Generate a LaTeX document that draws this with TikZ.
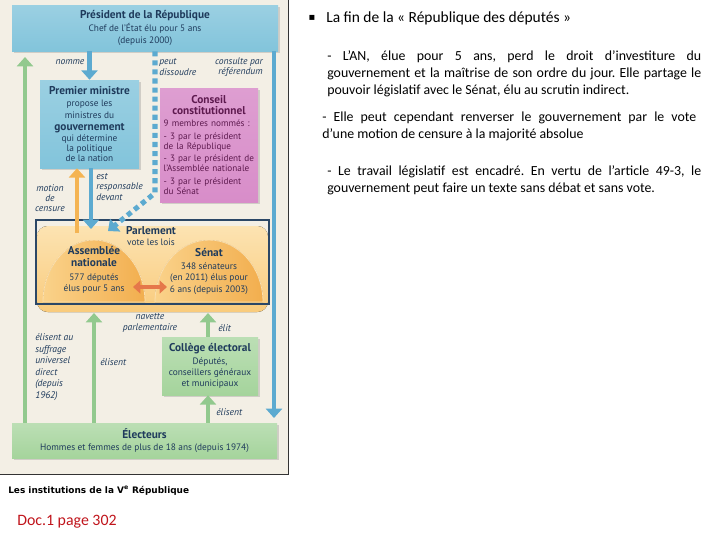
\documentclass[tikz,border=0pt]{standalone}
\usepackage{fontspec}
\setmainfont{Carlito}
\newfontfamily\diagfont{PT Sans}
\newfontfamily\symfont{DejaVu Sans}
\usetikzlibrary{arrows.meta,shadows}

\definecolor{panelbg}{HTML}{F3EFE5}
\definecolor{boxblue}{HTML}{82C4DB}
\definecolor{arrowblue}{HTML}{5CAAD0}
\definecolor{navy}{HTML}{1F3B5C}
\definecolor{ccpink}{HTML}{D88DC9}
\definecolor{ccdark}{HTML}{5E1A4F}
\definecolor{boxgreen}{HTML}{A5D49C}
\definecolor{arrowgreen}{HTML}{92C98E}
\definecolor{parllight}{HTML}{FCE3B2}
\definecolor{parldark}{HTML}{F9CB7C}
\definecolor{domelight}{HTML}{FAD28A}
\definecolor{domedark}{HTML}{F2AE4E}
\definecolor{framenavy}{HTML}{2B4766}
\definecolor{censorange}{HTML}{F4B453}
\definecolor{navetteorange}{HTML}{E5774A}
\definecolor{docred}{HTML}{C0141B}

\newcommand{\dtitle}{\diagfont\bfseries\fontsize{8.5}{9.4}\selectfont}
\newcommand{\dbody}{\diagfont\fontsize{7}{9}\selectfont}
\newcommand{\dlabel}{\diagfont\itshape\fontsize{7.2}{7.6}\selectfont}

\begin{document}
\frenchspacing
\begin{tikzpicture}[x=0.75pt, y=-0.75pt,
    >={Triangle[width=12pt,length=7pt]},
    box/.style={inner sep=0pt, align=center, text=navy, font=\dbody,
      drop shadow={shadow xshift=1.2pt, shadow yshift=-1.2pt, opacity=0.3}},
    bluebox/.style={box, top color=boxblue!80!white, bottom color=boxblue},
    greenbox/.style={box, top color=boxgreen!75!white, bottom color=boxgreen},
    pinkbox/.style={box, top color=ccpink!85!white, bottom color=ccpink, text=ccdark},
    bluearrow/.style={draw=arrowblue, line width=3.6pt, ->},
    greenarrow/.style={draw=arrowgreen, line width=3.6pt, ->},
    censarrow/.style={draw=censorange, line width=3.6pt, ->},
    dissolve/.style={draw=arrowblue, line width=3.8pt, dash pattern=on 3.8pt off 3pt, ->},
    dome/.style={left color=domelight, right color=domedark, draw=domelight!70!white, line width=0.6pt},
    parlbox/.style={inner sep=0pt, align=center, text=navy, font=\dbody},
    lbl/.style={font=\dlabel, text=navy, inner sep=0pt},
    para/.style={font=\fontsize{10.4}{12.75}\selectfont, text width=280.5pt, align=justify, inner sep=0pt, anchor=north west}]
  \useasboundingbox (0,0) rectangle (720,540);
  \fill[panelbg] (0,0) rectangle (288,474);
  \draw[black!80, line width=0.6pt] (0,474) -- (288,474) -- (288,0);

  % Parlement: background, domes and frame
  \fill[rounded corners=8pt, top color=parllight, bottom color=parldark] (37,226) rectangle (268,312);
  \fill[dome] (43,302) arc[start angle=180, end angle=0, x radius=38.25pt, y radius=46.5pt] -- cycle;
  \fill[dome] (155,302) arc[start angle=180, end angle=0, x radius=40.5pt, y radius=46.5pt] -- cycle;
  \node[draw=framenavy, line width=1.6pt, minimum width=174.75pt, minimum height=63pt, inner sep=0pt] (parl) at (152.5,262) {};
  \node[parlbox] (parltxt) at (151,236)
    {\dtitle Parlement\\[-1pt]vote les lois};
  \node[parlbox] (an) at (94,270)
    {\dtitle Assemblée\\\dtitle nationale\\[1pt]577 députés\\[-0.5pt]élus pour 5 ans};
  \node[parlbox] (senat) at (209,271.5)
    {\dtitle Sénat\\[0.5pt]348 sénateurs\\[-0.5pt](en 2011) élus pour\\[-0.5pt]6 ans (depuis 2003)};

  % boxes
  \node[bluebox, minimum width=199.5pt, minimum height=34.5pt] (pres) at (145,28)
    {\dtitle Président de la République\\[0.5pt]Chef de l’État élu pour 5 ans\\(depuis 2000)};
  \node[bluebox, minimum width=74.25pt, minimum height=66pt] (pm) at (89.5,124)
    {\dtitle Premier ministre\\propose les\\ministres du\\\dtitle gouvernement\\[-1.2pt]qui détermine\\[-1.5pt]la politique\\[-1.5pt]de la nation};
  \node[pinkbox, minimum width=73.5pt, minimum height=85.5pt, text width=72pt, align=left] (cc) at (209,145)
    {{\centering\dtitle\fontsize{8.5}{8.3}\selectfont Conseil\\constitutionnel\par}
     \vspace{1.6pt}\diagfont\fontsize{6.9}{7.5}\selectfont
     \hspace*{2pt}9 membres nommés :\par\vspace{2pt}
     \leftskip=2pt\hangindent=3pt\hangafter=1 - 3 par le président\\de la République\par\vspace{2pt}
     \hangindent=3pt\hangafter=1 - 3 par le président de\\l’Assemblée nationale\par\vspace{2pt}
     \hangindent=3pt\hangafter=1 - 3 par le président\\du Sénat\par};
  \node[greenbox, minimum width=72pt, minimum height=43.5pt] (college) at (210,366)
    {\dtitle Collège électoral\\[0.5pt]Députés,\\[-0.5pt]conseillers généraux\\[-1pt]et municipaux};
  \node[greenbox, minimum width=198.75pt, minimum height=26.25pt] (elect) at (144.5,440.5)
    {\dtitle Électeurs\\[-0.5pt]Hommes et femmes de plus de 18 ans (depuis 1974)};

  % connectors
  \coordinate (presleft) at (25,57);
  \coordinate (presright) at (274,418);
  \coordinate (dissx) at (155,0);
  \coordinate (dissturn) at (155,193);
  \coordinate (disstip) at (108,231);
  \coordinate (censx) at (77,233);
  \coordinate (resptip) at (91,229);
  \coordinate (antip) at (94,313);
  \coordinate (senattip) at (208,313);
  \coordinate (navg) at (133,287);
  \coordinate (navd) at (167,287);
  \draw[greenarrow] (elect.north -| presleft) -- (presleft);
  \draw[bluearrow] (pres.south -| presright) -- (presright);
  \draw[bluearrow] (pres.south -| pm) -- (pm.north);
  \draw[dissolve] (pres.south -| dissx) -- (dissturn) -- (disstip);
  \draw[censarrow] (censx) -- (pm.south -| censx);
  \draw[bluearrow] (pm.south -| resptip) -- (resptip);
  \draw[greenarrow] (elect.north -| antip) -- (antip);
  \draw[greenarrow] (college.north -| senattip) -- (senattip);
  \draw[greenarrow] (elect.north -| senattip) -- (college.south -| senattip);
  \draw[draw=navetteorange, line width=2.8pt, {Triangle[width=9.5pt,length=5.5pt]}-{Triangle[width=9.5pt,length=5.5pt]}] (navg) -- (navd);

  % labels
  \node[lbl] (lnomme) at (70,62) {nomme};
  \node[lbl, anchor=west, align=left] (ldiss) at (159,67) {peut\\dissoudre};
  \node[lbl, anchor=east, align=right] (lref) at (263,67) {consulte par\\référendum};
  \node[lbl, align=center] (lcens) at (50,198) {motion\\de\\censure};
  \node[lbl, anchor=west, align=left] (lresp) at (96,187) {est\\responsable\\devant};
  \node[lbl, align=center] (lnav) at (150,323) {navette\\parlementaire};
  \node[lbl, anchor=west] (lelit) at (218,328) {élit};
  \node[lbl, anchor=west, align=left, font=\diagfont\itshape\fontsize{7.2}{8.7}\selectfont] (lsuff) at (35,367)
    {élisent au\\suffrage\\universel\\direct\\(depuis\\1962)};
  \node[lbl, anchor=west] (lelan) at (100,362) {élisent};
  \node[lbl, anchor=west] (lelcol) at (216,412) {élisent};

  % caption
  \node[anchor=west, inner sep=0pt, font=\symfont\bfseries\fontsize{6.7}{7}\selectfont] (caption) at (8,491)
    {Les institutions de la V\textsuperscript{e} République};
  \node[anchor=west, inner sep=0pt, text=docred, font=\fontsize{11.9}{13}\selectfont] (doc) at (17,522) {Doc.1 page 302};

  % right column
  \node[inner sep=0pt, font=\symfont\fontsize{7.5}{8}\selectfont] (bullet) at (312,18) {▪};
  \node[anchor=west, inner sep=0pt, font=\fontsize{11.6}{13}\selectfont] (titre) at (326,18)
    {La fin de la « République des députés »};
  \node[para] (p1) at (327,50)
    {- L’AN, élue pour 5 ans, perd le droit d’investiture du\linebreak
     gouvernement et la maîtrise de son ordre du jour. Elle partage le\linebreak
     pouvoir législatif avec le Sénat, élu au scrutin indirect.};
  \node[para] (p2) at (322,112)
    {- Elle peut cependant renverser le gouvernement par le vote\linebreak
     d’une motion de censure à la majorité absolue};
  \node[para] (p3) at (327,165)
    {- Le travail législatif est encadré. En vertu de l’article 49-3, le\linebreak
     gouvernement peut faire un texte sans débat et sans vote.};
\end{tikzpicture}
\end{document}
